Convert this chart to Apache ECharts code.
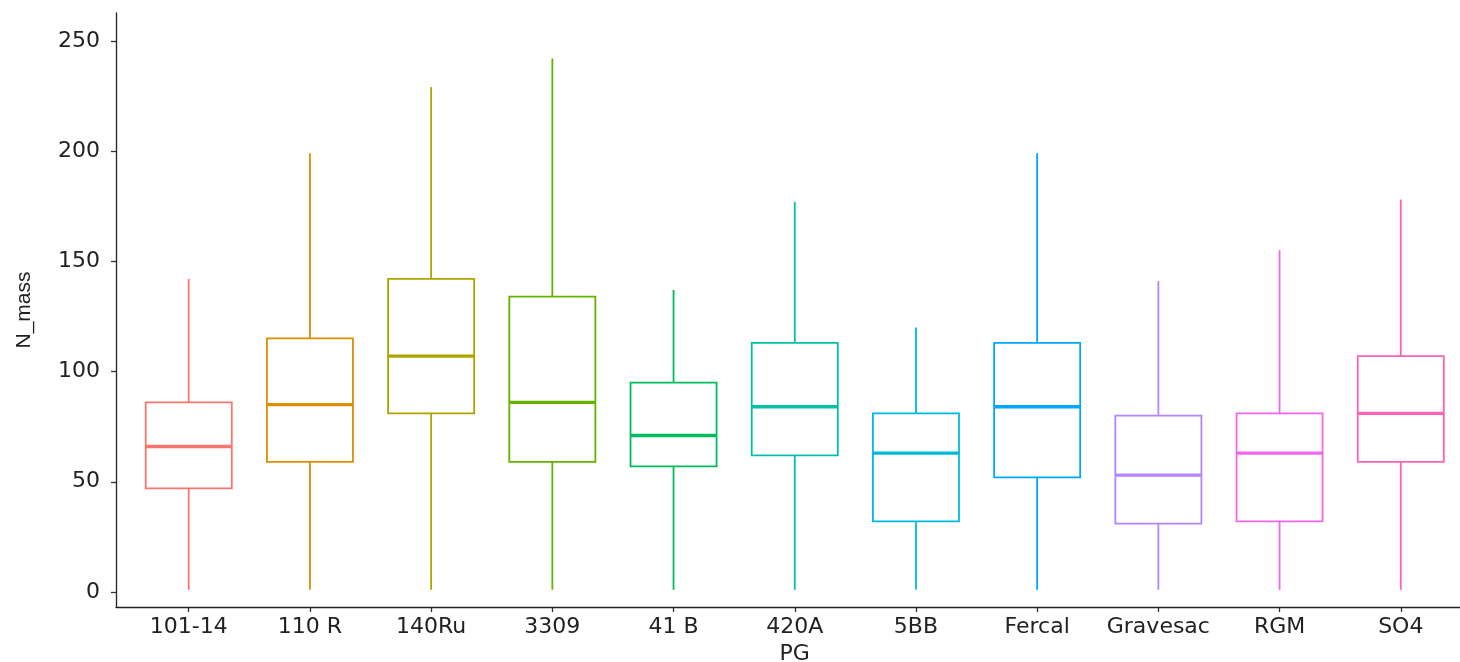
<!DOCTYPE html>
<html>
<head>
<meta charset="utf-8">
<script src="https://cdn.jsdelivr.net/npm/echarts@6/dist/echarts.min.js"></script>
<style>
  html, body { margin: 0; padding: 0; background: #fff; }
  #main { width: 1460px; height: 662px; }
</style>
</head>
<body>
<div id="main"></div>
<script>
// categories and box stats
const categories = ['101-14', '110 R', '140Ru', '3309', '41 B', '420A', '5BB', 'Fercal', 'Gravesac', 'RGM', 'SO4'];
const lowValues    = [1, 1, 1, 1, 1, 1, 1, 1, 1, 1, 1];
const q1Values     = [47, 59, 81, 59, 57, 62, 32, 52, 31, 32, 59];
const medianValues = [66, 85, 107, 86, 71, 84, 63, 84, 53, 63, 81];
const q3Values     = [86, 115, 142, 134, 95, 113, 81, 113, 80, 81, 107];
const highValues   = [142, 199, 229, 242, 137, 177, 120, 199, 141, 155, 178];
const yTicks = [0, 50, 100, 150, 200, 250];
// ggplot hue palette
const colors = ['#F8766D', '#DB8E00', '#AEA200', '#64B200', '#00BD5C', '#00C1A7', '#00BADE', '#00A6FF', '#B385FF', '#EF67EB', '#FF63B6'];

const boxRows = categories.map(function (c, i) {
    return [i, lowValues[i], q1Values[i], medianValues[i], q3Values[i], highValues[i]];
});
const xTicks = categories.map(function (c, i) { return i; });

const chart = echarts.init(document.getElementById('main'));

function renderBox(params, api) {
    const x = api.value(0);
    const pLow = api.coord([x, api.value(1)]);
    const pQ1 = api.coord([x, api.value(2)]);
    const pMed = api.coord([x, api.value(3)]);
    const pQ3 = api.coord([x, api.value(4)]);
    const pHigh = api.coord([x, api.value(5)]);
    const half = api.size([0.71, 0])[0] / 2;
    const color = colors[params.dataIndex];
    const lineStyle = { stroke: color, lineWidth: 1.8, fill: null };
    return {
        type: 'group',
        children: [
            { type: 'line', shape: { x1: pHigh[0], y1: pHigh[1], x2: pQ3[0], y2: pQ3[1] }, style: lineStyle },
            { type: 'line', shape: { x1: pQ1[0], y1: pQ1[1], x2: pLow[0], y2: pLow[1] }, style: lineStyle },
            { type: 'rect', shape: { x: pQ3[0] - half, y: pQ3[1], width: half * 2, height: pQ1[1] - pQ3[1] },
              style: { stroke: color, lineWidth: 1.8, fill: '#fff' } },
            { type: 'line', shape: { x1: pMed[0] - half, y1: pMed[1], x2: pMed[0] + half, y2: pMed[1] },
              style: { stroke: color, lineWidth: 3.4 } }
        ]
    };
}

const option = {
    backgroundColor: '#fff',
    animation: false,
    grid: { left: 116, top: 13, bottom: 55, width: 1357.5, outerBoundsMode: 'none', containLabel: false },
    xAxis: {
        type: 'value',
        min: -0.6,
        max: 10.6,
        name: 'PG',
        nameLocation: 'middle',
        nameGap: 33,
        nameTextStyle: { fontFamily: 'DejaVu Sans', fontSize: 22, color: '#222' },
        axisLine: { onZero: false, lineStyle: { color: '#222', width: 1.3 } },
        axisTick: { show: true, length: 5, customValues: xTicks, lineStyle: { color: '#333', width: 1.3 } },
        axisLabel: {
            customValues: xTicks,
            formatter: function (v) { return categories[Math.round(v)]; },
            fontFamily: 'DejaVu Sans', fontSize: 22, color: '#222', margin: 9
        },
        splitLine: { show: false }
    },
    yAxis: {
        type: 'value',
        min: -6.8,
        max: 262.6,
        name: 'N_mass',
        nameLocation: 'middle',
        nameGap: 81,
        nameRotate: 90,
        nameTextStyle: { fontFamily: 'Liberation Sans', fontSize: 21, color: '#222' },
        axisLine: { show: true, onZero: false, lineStyle: { color: '#222', width: 1.3 } },
        axisTick: { show: true, length: 5, customValues: yTicks, lineStyle: { color: '#333', width: 1.3 } },
        axisLabel: { customValues: yTicks, fontFamily: 'DejaVu Sans', fontSize: 22, color: '#222', margin: 16 },
        splitLine: { show: false }
    },
    series: [{
        type: 'custom',
        renderItem: renderBox,
        encode: { x: 0, y: [1, 2, 3, 4, 5] },
        data: boxRows
    }]
};
chart.setOption(option);
</script>
</body>
</html>
